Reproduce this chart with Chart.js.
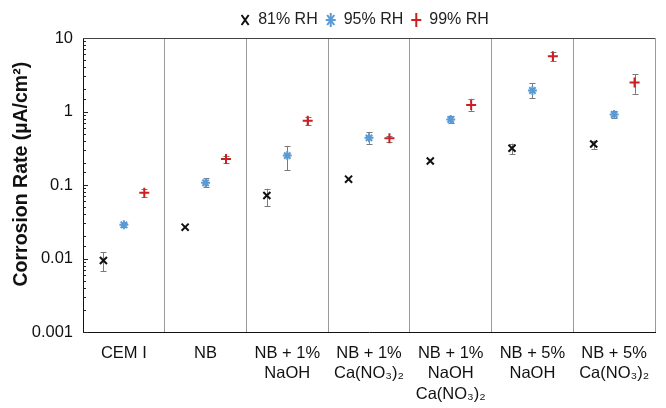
<!DOCTYPE html>
<html>
<head>
<meta charset="utf-8">
<script src="https://cdn.jsdelivr.net/npm/chart.js@4.4.0/dist/chart.umd.min.js"></script>
<style>
  html, body { margin: 0; padding: 0; background: #fff; }
  #wrap { width: 666px; height: 408px; }
</style>
</head>
<body>
<div id="wrap"><canvas id="corrosionChart"></canvas></div>
<script>
// categories (mix designs)
const categories = [
    'CEM I',
    'NB',
    ['NB + 1%', 'NaOH'],
    ['NB + 1%', 'Ca(NO₃)₂'],
    ['NB + 1%', 'NaOH', 'Ca(NO₃)₂'],
    ['NB + 5%', 'NaOH'],
    ['NB + 5%', 'Ca(NO₃)₂']
];

const seriesNames = ['81% RH', '95% RH', '99% RH'];

// corrosion rate, µA/cm2
const rh81   = [0.0094, 0.0267, 0.072, 0.120, 0.212, 0.316, 0.361];
const rh81Lo = [0.0067, null,   0.051, null,  null,  0.262, 0.310];
const rh81Hi = [0.0122, null,   0.089, null,  null,  0.365, 0.400];

const rh95   = [0.0287, 0.107, 0.251, 0.438, 0.778, 1.93, 0.91];
const rh95Lo = [0.0272, 0.093, 0.159, 0.363, 0.690, 1.52, 0.81];
const rh95Hi = [0.0302, 0.123, 0.340, 0.518, 0.860, 2.43, 1.03];

const rh99   = [0.0786, 0.226, 0.747, 0.434, 1.23, 5.65, 2.48];
const rh99Lo = [0.069,  0.197, 0.645, 0.390, 1.01, 4.90, 1.74];
const rh99Hi = [0.089,  0.250, 0.840, 0.470, 1.49, 6.35, 3.22];

const yTickLabels = ['0.001', '0.01', '0.1', '1', '10'];

const FONT = "'Liberation Sans', Arial, Helvetica, sans-serif";

function toPoints(values, offset) {
    return values.map((v, i) => ({ x: i + offset, y: v }));
}

function isDecade(v) {
    const e = Math.log10(v);
    return Math.abs(e - Math.round(e)) < 1e-9;
}

// vertical error bars, drawn behind the markers
const errorBars = {
    id: 'errorBars',
    beforeDatasetsDraw(chart) {
        const ctx = chart.ctx;
        const y = chart.scales.y;
        ctx.save();
        ctx.strokeStyle = '#7a7a7a';
        ctx.lineWidth = 1;
        chart.data.datasets.forEach((ds, di) => {
            const meta = chart.getDatasetMeta(di);
            meta.data.forEach((pt, i) => {
                const lo = ds.errLo[i], hi = ds.errHi[i];
                if (lo == null || hi == null) return;
                const y1 = y.getPixelForValue(lo);
                const y2 = y.getPixelForValue(hi);
                const x = Math.round(pt.x) + 0.5;
                ctx.beginPath();
                ctx.moveTo(x, y1); ctx.lineTo(x, y2);
                ctx.moveTo(x - 3, Math.round(y1) + 0.5); ctx.lineTo(x + 3, Math.round(y1) + 0.5);
                ctx.moveTo(x - 3, Math.round(y2) + 0.5); ctx.lineTo(x + 3, Math.round(y2) + 0.5);
                ctx.stroke();
            });
        });
        ctx.restore();
    }
};

// centre the legend over the plot area rather than the whole canvas
const legendShift = {
    id: 'legendShift',
    afterLayout(chart) {
        const lg = chart.legend;
        if (!lg) return;
        const a = chart.chartArea;
        const dx = (a.left + a.right) / 2 - chart.width / 2;
        lg.left += dx;
        lg.right += dx;
    }
};

// inward ticks on the log axis + top frame line
const frame = {
    id: 'frame',
    afterDraw(chart) {
        const ctx = chart.ctx;
        const a = chart.chartArea;
        const y = chart.scales.y;
        ctx.save();
        ctx.strokeStyle = '#222';
        ctx.lineWidth = 1;
        ctx.beginPath();
        y.ticks.forEach(t => {
            const py = Math.round(y.getPixelForValue(t.value)) + 0.5;
            const len = isDecade(t.value) ? 5 : 3;
            ctx.moveTo(a.left, py);
            ctx.lineTo(a.left + len, py);
        });
        ctx.stroke();
        ctx.strokeStyle = '#444';
        ctx.beginPath();
        ctx.moveTo(a.left, Math.round(a.top) + 0.5);
        ctx.lineTo(a.right, Math.round(a.top) + 0.5);
        ctx.stroke();
        ctx.restore();
    }
};

const ctx = document.getElementById('corrosionChart');

new Chart(ctx, {
    type: 'scatter',
    data: {
        datasets: [
            {
                label: seriesNames[0],
                data: toPoints(rh81, 0.25),
                errLo: rh81Lo,
                errHi: rh81Hi,
                pointStyle: 'crossRot',
                pointRadius: 5,
                pointBorderWidth: 2,
                borderColor: '#111111',
                backgroundColor: '#111111'
            },
            {
                label: seriesNames[1],
                data: toPoints(rh95, 0.5),
                errLo: rh95Lo,
                errHi: rh95Hi,
                pointStyle: 'star',
                pointRadius: 4.5,
                pointBorderWidth: 2,
                borderColor: '#5b9bd5',
                backgroundColor: '#5b9bd5'
            },
            {
                label: seriesNames[2],
                data: toPoints(rh99, 0.75),
                errLo: rh99Lo,
                errHi: rh99Hi,
                pointStyle: 'cross',
                pointRadius: 5,
                pointBorderWidth: 2,
                borderColor: '#cc1f1f',
                backgroundColor: '#cc1f1f'
            }
        ]
    },
    options: {
        responsive: true,
        maintainAspectRatio: false,
        animation: false,
        layout: {
            padding: { top: 4, right: 9, left: 0, bottom: 0 }
        },
        plugins: {
            legend: {
                display: true,
                position: 'top',
                labels: {
                    usePointStyle: true,
                    pointStyleWidth: 10,
                    boxHeight: 10,
                    padding: 8,
                    color: '#222',
                    font: { family: FONT, size: 16 }
                }
            },
            tooltip: { enabled: false }
        },
        scales: {
            x: {
                type: 'linear',
                min: 0,
                max: categories.length,
                afterBuildTicks: (scale) => {
                    const t = [];
                    for (let k = 0; k <= categories.length * 2; k++) t.push({ value: k / 2 });
                    scale.ticks = t;
                },
                afterFit: (scale) => { scale.height = 76; },
                ticks: {
                    autoSkip: false,
                    maxRotation: 0,
                    padding: 11,
                    color: '#111',
                    font: { family: FONT, size: 16.5, lineHeight: 1.25 },
                    callback: (value) => {
                        if (Number.isInteger(value)) return '';
                        return categories[Math.floor(value)];
                    }
                },
                grid: {
                    drawTicks: false,
                    color: (c) => (c.tick && Number.isInteger(c.tick.value)) ? '#9a9a9a' : 'rgba(0,0,0,0)',
                    lineWidth: 1
                },
                border: { color: '#111', width: 1 }
            },
            y: {
                type: 'logarithmic',
                min: 0.001,
                max: 10,
                afterFit: (scale) => { scale.width = 83; },
                ticks: {
                    autoSkip: false,
                    padding: 10,
                    color: '#111',
                    font: { family: FONT, size: 16.5 },
                    callback: (value) => isDecade(value) ? yTickLabels[Math.round(Math.log10(value)) + 3] : ''
                },
                grid: { drawOnChartArea: false, drawTicks: false },
                border: { color: '#111', width: 1 },
                title: {
                    display: true,
                    text: '    Corrosion Rate (µA/cm²)',
                    color: '#111',
                    padding: { top: 10, bottom: 0 },
                    font: { family: FONT, size: 19.5, weight: 'bold' }
                }
            }
        }
    },
    plugins: [errorBars, legendShift, frame]
});
</script>
</body>
</html>
